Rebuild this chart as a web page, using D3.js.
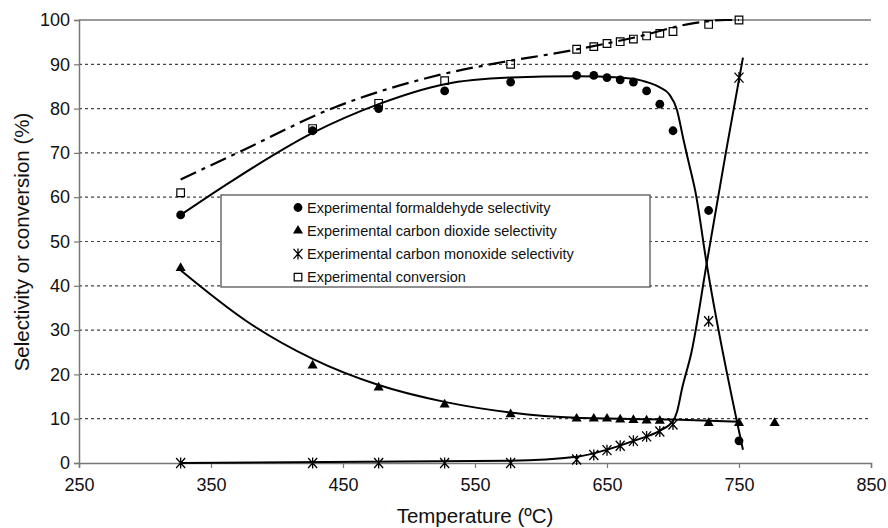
<!DOCTYPE html>
<html>
<head>
<meta charset="utf-8">
<script src="https://cdn.jsdelivr.net/npm/d3@7"></script>
<style>
  body { margin: 0; background: #fff; }
  svg { font-family: "Liberation Sans", Arial, sans-serif; }
</style>
</head>
<body>
<div class="chart-box"></div>
<script>
// ---------------------------//
//            DATA            //
// ---------------------------//
const formTemps = [327, 427, 477, 527, 577, 627, 640, 650, 660, 670, 680, 690, 700, 727, 750];
const formVals  = [56, 75, 80, 84, 86, 87.5, 87.5, 87, 86.5, 86, 84, 81, 75, 57, 5];

const co2Temps = [327, 427, 477, 527, 577, 627, 640, 650, 660, 670, 680, 690, 727, 750, 777];
const co2Vals  = [44, 22, 17, 13.2, 11, 10, 10, 10, 9.8, 9.7, 9.6, 9.5, 9, 9, 9];

const coTemps = [327, 427, 477, 527, 577, 627, 640, 650, 660, 670, 680, 690, 700, 727, 750];
const coVals  = [0, 0, 0, 0, 0, 0.8, 1.8, 2.9, 3.9, 5, 6, 7.1, 8.7, 32, 87];

const convTemps = [327, 427, 477, 527, 577, 627, 640, 650, 660, 670, 680, 690, 700, 727, 750];
const convVals  = [61, 75.5, 81.2, 86.3, 90, 93.4, 94, 94.7, 95.1, 95.7, 96.4, 97, 97.4, 99, 100];

// fitted (model) curves
const convFitT = [327, 370, 443, 523, 569, 617, 670, 716, 740, 750];
const convFitV = [64, 70, 80.2, 87.6, 90.4, 92.8, 96, 99.3, 100, 100];

const formFitT = [327, 366, 427, 477, 527, 577, 627, 660, 680, 690, 697, 703, 708, 712, 717, 725.5, 753];
const formFitV = [56, 63.7, 74.5, 81, 85.5, 87, 87.3, 87, 86, 84.8, 83.3, 79.7, 72.9, 67.7, 61.2, 45, 3];

const co2FitT = [327, 377, 427, 477, 527, 577, 627, 700, 750];
const co2FitV = [43.5, 32, 23.5, 17.6, 13.8, 11.4, 10.2, 9.8, 9.3];

const coFitT = [327, 577, 627, 650, 670, 690, 700, 703, 707, 714, 725.5, 740, 753];
const coFitV = [0, 0.5, 1.4, 3, 5, 7.3, 9.5, 11.5, 17, 25, 45, 70, 91.5];

const xTicks = [250, 350, 450, 550, 650, 750, 850];
const yTicks = [0, 10, 20, 30, 40, 50, 60, 70, 80, 90, 100];

const legendLabels = [
    "Experimental formaldehyde selectivity",
    "Experimental carbon dioxide selectivity",
    "Experimental carbon monoxide selectivity",
    "Experimental conversion"
];

// ---------------------------//
//           LAYOUT           //
// ---------------------------//
const MARGIN = { left: 79, right: 17, top: 20, bottom: 65 };
const WIDTH = 888 - MARGIN.left - MARGIN.right,
      HEIGHT = 528 - MARGIN.top - MARGIN.bottom;

const svg = d3.select(".chart-box").append("svg")
    .attr("width", 888)
    .attr("height", 528);

const chart = svg.append("g")
    .attr("transform", `translate(${MARGIN.left},${MARGIN.top})`);

const xScale = d3.scaleLinear().domain([250, 850]).range([0, WIDTH]);
const yScale = d3.scaleLinear().domain([0, 100]).range([HEIGHT, 0]);

// ---------------------------//
//       GRID AND AXES        //
// ---------------------------//
chart.selectAll(".grid")
    .data(yTicks.filter(d => d > 0 && d < 100))
    .enter()
    .append("line")
    .attr("x1", 0).attr("x2", WIDTH)
    .attr("y1", d => yScale(d)).attr("y2", d => yScale(d))
    .attr("stroke", "#444")
    .attr("stroke-width", 1.2)
    .attr("stroke-dasharray", "3,3");

// top border at 100
chart.append("line")
    .attr("x1", 0).attr("x2", WIDTH)
    .attr("y1", yScale(100)).attr("y2", yScale(100))
    .attr("stroke", "#777")
    .attr("stroke-width", 1.5);

const xAxis = chart.append("g")
    .attr("transform", `translate(0,${HEIGHT})`)
    .call(d3.axisBottom(xScale).tickValues(xTicks).tickSize(5).tickPadding(10));

const yAxis = chart.append("g")
    .call(d3.axisLeft(yScale).tickValues(yTicks).tickSize(5).tickPadding(4));

[xAxis, yAxis].forEach(ax => {
    ax.select(".domain").attr("stroke", "#777").attr("stroke-width", 1.5);
    ax.selectAll(".tick line").attr("stroke", "#777").attr("stroke-width", 1.2);
    ax.selectAll(".tick text")
        .attr("fill", "#111")
        .style("font-size", "18px")
        .style("font-family", "Liberation Sans, Arial, sans-serif");
});

svg.append("text")
    .attr("x", MARGIN.left + WIDTH / 2)
    .attr("y", 523)
    .attr("text-anchor", "middle")
    .attr("fill", "#111")
    .style("font-size", "20.5px")
    .text("Temperature (\u00BAC)");

svg.append("text")
    .attr("transform", `translate(29,242) rotate(-90)`)
    .attr("text-anchor", "middle")
    .attr("fill", "#111")
    .style("font-size", "20.5px")
    .text("Selectivity or conversion (%)");

// ---------------------------//
//           LEGEND           //
// ---------------------------//
const legend = svg.append("g");
legend.append("rect")
    .attr("x", 221).attr("y", 195)
    .attr("width", 429).attr("height", 92)
    .attr("fill", "#fff")
    .attr("stroke", "#555")
    .attr("stroke-width", 1.3);

// ---------------------------//
//           MARKERS          //
// ---------------------------//
const starPath = "M-4.5,-5L4.5,5M-4.5,5L4.5,-5M0,-5.5L0,5.5";
const triPath = d3.symbol().type(d3.symbolTriangle).size(44)();
const squarePath = "M-3.8,-3.8H3.8V3.8H-3.8Z";

function drawMarker(g, type, x, y) {
    if (type === "circle") {
        g.append("circle").attr("cx", x).attr("cy", y).attr("r", 4.4).attr("fill", "#000");
    } else if (type === "triangle") {
        g.append("path").attr("d", triPath).attr("transform", `translate(${x},${y})`).attr("fill", "#000");
    } else if (type === "star") {
        g.append("path").attr("d", starPath).attr("transform", `translate(${x},${y})`)
            .attr("fill", "none").attr("stroke", "#000").attr("stroke-width", 1.3);
    } else {
        g.append("path").attr("d", squarePath).attr("transform", `translate(${x},${y})`)
            .attr("fill", "none").attr("stroke", "#000").attr("stroke-width", 1.2);
    }
}

const legendTypes = ["circle", "triangle", "star", "square"];
legendLabels.forEach((label, i) => {
    const ly = 207.5 + i * 23.2;
    drawMarker(legend, legendTypes[i], 298, ly);
    legend.append("text")
        .attr("x", 307).attr("y", ly)
        .attr("dy", "0.36em")
        .attr("fill", "#111")
        .style("font-size", "14.5px")
        .text(label);
});

// ---------------------------//
//         FIT CURVES         //
// ---------------------------//
const line = d3.line()
    .x(d => xScale(d[0]))
    .y(d => yScale(d[1]))
    .curve(d3.curveMonotoneX);

const zip = (ts, vs) => ts.map((t, i) => [t, vs[i]]);

chart.append("path")
    .datum(zip(convFitT, convFitV))
    .attr("d", line)
    .attr("fill", "none")
    .attr("stroke", "#000")
    .attr("stroke-width", 2.2)
    .attr("stroke-dasharray", "17,6,4,6");

[[formFitT, formFitV], [co2FitT, co2FitV], [coFitT, coFitV]].forEach(([ts, vs]) => {
    chart.append("path")
        .datum(zip(ts, vs))
        .attr("d", line)
        .attr("fill", "none")
        .attr("stroke", "#000")
        .attr("stroke-width", 2);
});

// ---------------------------//
//      EXPERIMENTAL DATA     //
// ---------------------------//
const points = chart.append("g");
convTemps.forEach((t, i) => drawMarker(points, "square", xScale(t), yScale(convVals[i])));
formTemps.forEach((t, i) => drawMarker(points, "circle", xScale(t), yScale(formVals[i])));
co2Temps.forEach((t, i) => drawMarker(points, "triangle", xScale(t), yScale(co2Vals[i])));
coTemps.forEach((t, i) => drawMarker(points, "star", xScale(t), yScale(coVals[i])));
</script>
</body>
</html>
